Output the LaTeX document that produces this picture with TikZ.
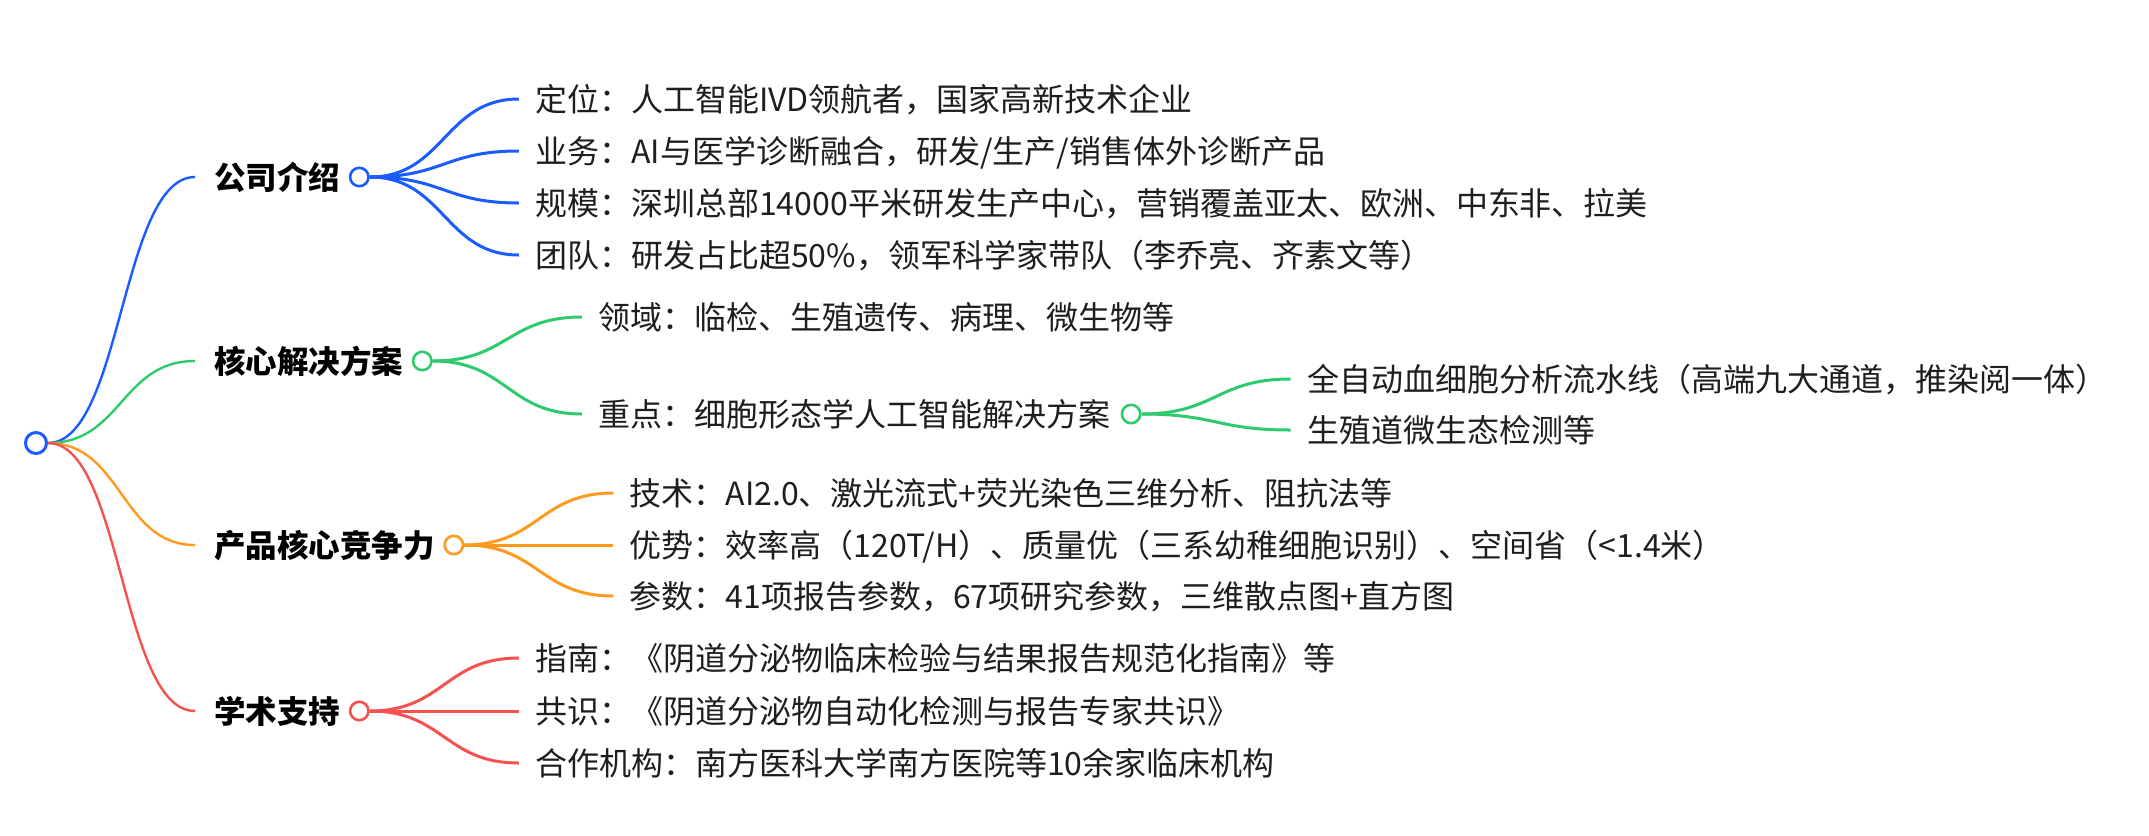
\documentclass[tikz,border=0pt]{standalone}
\usepackage{fontspec}
\setmainfont{Noto Sans CJK SC}
\usetikzlibrary{positioning}
\definecolor{mblue}{HTML}{1A5CFF}
\definecolor{mgreen}{HTML}{2DCB6C}
\definecolor{morange}{HTML}{FF9A1F}
\definecolor{mred}{HTML}{F5524F}
\definecolor{mtext}{HTML}{1E1E1E}

\begin{document}
\begin{tikzpicture}[x=0.5pt,y=-0.5pt,
   topic/.style={anchor=west,inner xsep=9.5pt,inner ysep=0pt,text height=13.9pt,text depth=1.9pt,font=\fontsize{15.75}{18}\selectfont\bfseries},
   leaf/.style={anchor=west,inner xsep=8pt,inner ysep=0pt,text height=14pt,text depth=2pt,text=mtext,font=\fontsize{16}{19}\selectfont},
   hub/.style={circle,draw=#1,fill=white,line width=1.3pt,inner sep=0pt,minimum size=9.2pt},
   link/.style={draw=#1,line width=1.5pt,out=0,in=180,distance=37pt},
   trunk/.style={line width=1.2pt}]
   \useasboundingbox (0,0) rectangle (2149,836);

   \node[hub=mblue,minimum size=10.5pt,line width=1.5pt] (root) at (36,443) {};

   \node[topic] (gs) at (195,177) {公司介绍};
   \node[topic] (hx) at (195,361) {核心解决方案};
   \node[topic] (cp) at (195,545) {产品核心竞争力};
   \node[topic] (xs) at (195,711) {学术支持};

   \node[hub=mblue]   (gsc) [right=-5.5pt of gs] {};
   \node[hub=mgreen]  (hxc) [right=-5.5pt of hx] {};
   \node[hub=morange] (cpc) [right=-5.5pt of cp] {};
   \node[hub=mred]    (xsc) [right=-5.5pt of xs] {};

   \node[leaf] (gs1) at ([shift={(149,-78)}]gsc.east) {定位：人工智能IVD领航者，国家高新技术企业};
   \node[leaf] (gs2) at ([shift={(149,-26)}]gsc.east) {业务：AI与医学诊断融合，研发/生产/销售体外诊断产品};
   \node[leaf] (gs3) at ([shift={(149,26)}]gsc.east)  {规模：深圳总部14000平米研发生产中心，营销覆盖亚太、欧洲、中东非、拉美};
   \node[leaf] (gs4) at ([shift={(149,78)}]gsc.east)  {团队：研发占比超50\%，领军科学家带队（李乔亮、齐素文等）};

   \node[leaf] (hx1) at ([shift={(149,-44)}]hxc.east) {领域：临检、生殖遗传、病理、微生物等};
   \node[leaf] (hx2) at ([shift={(149,53)}]hxc.east)  {重点：细胞形态学人工智能解决方案};
   \node[hub=mgreen] (hx2c) [right=-3pt of hx2] {};
   \node[leaf] (hx21) at ([shift={(149,-35)}]hx2c.east) {全自动血细胞分析流水线（高端九大通道，推染阅一体）};
   \node[leaf] (hx22) at ([shift={(149,16)}]hx2c.east)  {生殖道微生态检测等};

   \node[leaf] (cp1) at ([shift={(149,-52)}]cpc.east) {技术：AI2.0、激光流式+荧光染色三维分析、阻抗法等};
   \node[leaf] (cp2) at ([shift={(149,0)}]cpc.east)   {优势：效率高（120T/H）、质量优（三系幼稚细胞识别）、空间省（<1.4米）};
   \node[leaf] (cp3) at ([shift={(149,51)}]cpc.east)  {参数：41项报告参数，67项研究参数，三维散点图+直方图};

   \node[leaf] (xs1) at ([shift={(149,-53)}]xsc.east) {指南：《阴道分泌物临床检验与结果报告规范化指南》等};
   \node[leaf] (xs2) at ([shift={(149,0)}]xsc.east)   {共识：《阴道分泌物自动化检测与报告专家共识》};
   \node[leaf] (xs3) at ([shift={(149,52)}]xsc.east)  {合作机构：南方医科大学南方医院等10余家临床机构};

   \path[link=mblue]
    (root.east) edge[trunk] (gs.west)
    (gsc.east)  edge (gs1.west)
                edge (gs2.west)
                edge (gs3.west)
                edge (gs4.west);
   \path[link=mgreen]
    (root.east) edge[trunk] (hx.west)
    (hxc.east)  edge (hx1.west)
                edge (hx2.west)
    (hx2c.east) edge (hx21.west)
                edge (hx22.west);
   \path[link=morange]
    (root.east) edge[trunk] (cp.west)
    (cpc.east)  edge (cp1.west)
                edge (cp2.west)
                edge (cp3.west);
   \path[link=mred]
    (root.east) edge[trunk] (xs.west)
    (xsc.east)  edge (xs1.west)
                edge (xs2.west)
                edge (xs3.west);
\end{tikzpicture}
\end{document}
